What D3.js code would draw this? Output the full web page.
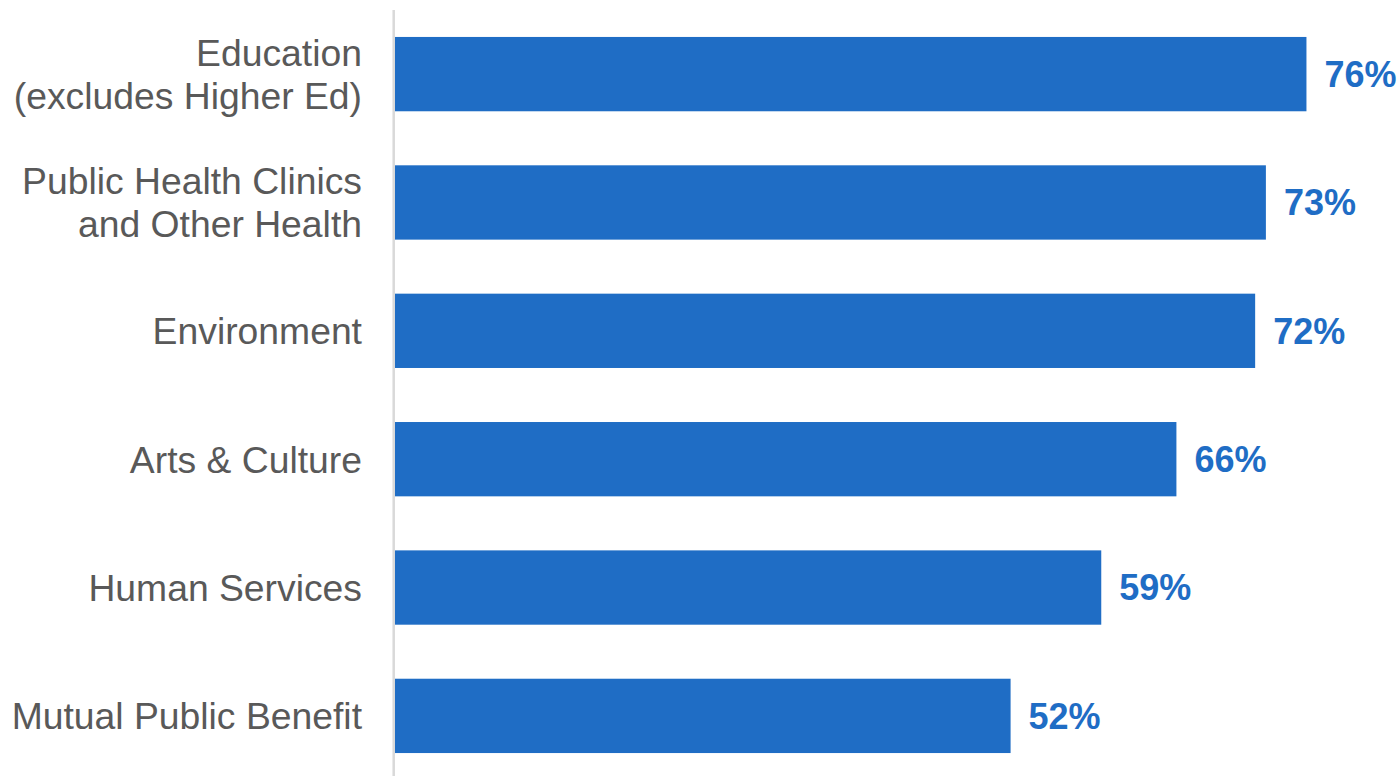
<!DOCTYPE html>
<html>
  <head>
    <script src="https://d3js.org/d3.v7.min.js"></script>
    <style>
      body {
        margin: 0px;
        background: #ffffff;
      }
      .cat-label {
        fill: #595959;
        font-size: 37.3px;
        font-family: "Liberation Sans", Arial, sans-serif;
      }
      .value-label {
        fill: #1f6dc5;
        font-size: 36px;
        font-weight: bold;
        font-family: "Liberation Sans", Arial, sans-serif;
      }
    </style>
  </head>
  <body>
    <svg width="1398" height="776"></svg>
    <script>
      // categories, top to bottom (multi-line labels split on "\n")
      var categories = [
        "Education\n(excludes Higher Ed)",
        "Public Health Clinics\nand Other Health",
        "Environment",
        "Arts & Culture",
        "Human Services",
        "Mutual Public Benefit"
      ];
      // percent values
      var values = [76.4, 73.0, 72.1, 65.5, 59.2, 51.6];
      var valueLabels = ["76%", "73%", "72%", "66%", "59%", "52%"];

      var width = 1398;
      var height = 776;
      var left = 395;
      var pxPerPct = 11.93;

      var svg = d3.select("svg")
        .attr("width", width)
        .attr("height", height);

      var x = d3.scaleLinear()
        .domain([0, 100])
        .range([left, left + 100 * pxPerPct]);

      var y = d3.scaleBand()
        .domain(categories)
        .range([10, 780])
        .paddingInner(0.421)
        .paddingOuter(0.21);

      // vertical axis line
      svg.append("line")
        .attr("x1", 393.7)
        .attr("x2", 393.7)
        .attr("y1", 10)
        .attr("y2", height)
        .style("stroke", "#d9d9d9")
        .style("stroke-width", 2.5);

      svg.append("g")
        .selectAll("rect")
        .data(categories)
        .enter()
        .append("rect")
          .attr("x", x(0))
          .attr("y", function(d) { return y(d); })
          .attr("width", function(d, i) { return x(values[i]) - x(0); })
          .attr("height", y.bandwidth())
          .style("fill", "#1f6dc5");

      svg.append("g")
        .selectAll("text")
        .data(categories)
        .enter()
        .append("text")
          .attr("class", "value-label")
          .attr("x", function(d, i) { return x(values[i]) + 18; })
          .attr("y", function(d) { return y(d) + y.bandwidth() / 2; })
          .attr("dy", "0.36em")
          .text(function(d, i) { return valueLabels[i]; });

      var lineHeight = 43;
      var cats = svg.append("g")
        .selectAll("text")
        .data(categories)
        .enter()
        .append("text")
          .attr("class", "cat-label")
          .attr("text-anchor", "end")
          .attr("transform", function(d) {
            return "translate(362," + (y(d) + y.bandwidth() / 2) + ")";
          });

      cats.each(function(d) {
        var lines = d.split("\n");
        var start = -(lines.length - 1) * lineHeight / 2;
        var t = d3.select(this);
        lines.forEach(function(line, j) {
          t.append("tspan")
            .attr("x", 0)
            .attr("y", start + j * lineHeight)
            .attr("dy", "0.36em")
            .text(line);
        });
      });
    </script>
  </body>
</html>
